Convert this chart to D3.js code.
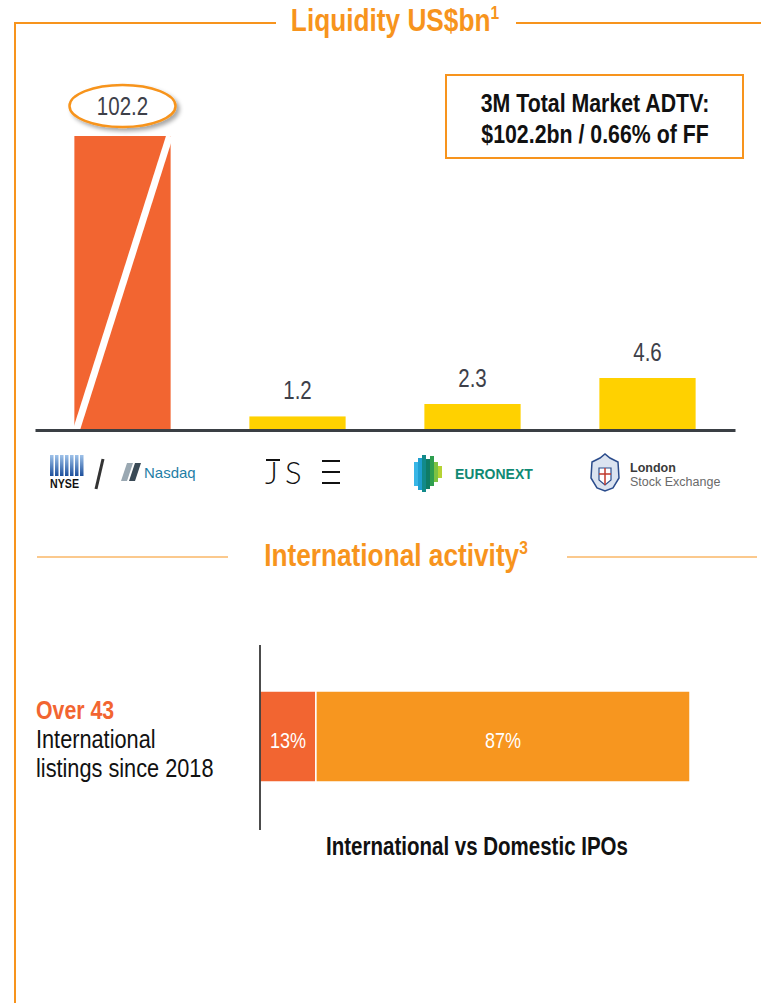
<!DOCTYPE html>
<html>
<head>
<meta charset="utf-8">
<script src="https://cdn.jsdelivr.net/npm/d3@7"></script>
<style>
  body { margin: 0; background: #fff; }
  text { font-family: "Liberation Sans", Arial, sans-serif; }
</style>
</head>
<body>
<div id="chart"></div>
<script>
var width = 761;
var height = 1005;

// liquidity data
var exchanges = ["NYSE / Nasdaq", "JSE", "Euronext", "LSE"];
var adtv = [102.2, 1.2, 2.3, 4.6];
var barColors = ["#F26531", "#FFD100", "#FFD100", "#FFD100"];

// international activity data
var ipoLabels = ["International", "Domestic"];
var ipoShare = [13, 87];
var ipoColors = ["#F26531", "#F7961F"];

var orange = "#F7941D";
var textGray = "#3d4049";
var squeeze = 0.82; // no narrow font installed, so squeeze Liberation Sans

var svg = d3.select("#chart").append("svg")
  .attr("width", width)
  .attr("height", height);

// condensed text helper
function ntext(parent, x, y, size, weight, fill, anchor) {
  return parent.append("text")
    .attr("transform", "translate(" + x + "," + y + ") scale(" + squeeze + ",1)")
    .attr("text-anchor", anchor || "start")
    .attr("fill", fill)
    .style("font-size", size + "px")
    .style("font-weight", weight);
}

var defs = svg.append("defs");
var shadow = defs.append("filter").attr("id", "shadow")
  .attr("x", "-20%").attr("y", "-30%").attr("width", "150%").attr("height", "180%");
shadow.append("feDropShadow")
  .attr("dx", 3).attr("dy", 3).attr("stdDeviation", 2)
  .attr("flood-color", "#000").attr("flood-opacity", 0.35);

// frame
svg.append("line").attr("x1", 15).attr("x2", 15).attr("y1", 22).attr("y2", 1003)
  .attr("stroke", orange).attr("stroke-width", 2);
svg.append("line").attr("x1", 14).attr("x2", 276).attr("y1", 23).attr("y2", 23)
  .attr("stroke", orange).attr("stroke-width", 2);
svg.append("line").attr("x1", 516).attr("x2", 761).attr("y1", 23).attr("y2", 23)
  .attr("stroke", orange).attr("stroke-width", 2);

var t1 = ntext(svg, 395, 31, 32, "bold", orange, "middle");
t1.append("tspan").text("Liquidity US$bn");
t1.append("tspan").attr("dy", -12).style("font-size", "19px").text("1");

// bar chart
var axisY = 430;
var capTop = 136;

var x = d3.scaleBand()
  .domain(exchanges)
  .range([35, 735])
  .paddingInner(0.45)
  .paddingOuter(0.225);

var y = d3.scaleLinear()
  .domain([0, 4.6])
  .range([axisY, 378]);

var data = exchanges.map((d, i) => ({name: d, value: adtv[i], color: barColors[i]}));

svg.append("g").selectAll("rect")
  .data(data)
  .enter()
  .append("rect")
  .attr("x", d => x(d.name))
  .attr("width", x.bandwidth())
  .attr("y", d => Math.max(y(d.value), capTop))
  .attr("height", d => axisY - Math.max(y(d.value), capTop))
  .attr("fill", d => d.color);

// break mark on the truncated bar
var big = data[0];
svg.append("line")
  .attr("x1", x(big.name) + 2).attr("y1", axisY)
  .attr("x2", x(big.name) + x.bandwidth() - 1).attr("y2", capTop)
  .attr("stroke", "#fff").attr("stroke-width", 7);

svg.append("g")
  .attr("transform", "translate(0," + axisY + ")")
  .call(d3.axisBottom(x).tickSize(0).tickFormat(""))
  .call(g => g.select(".domain").attr("stroke", "#3a3f44").attr("stroke-width", 3));

data.slice(1).forEach(d => {
  ntext(svg, x(d.name) + x.bandwidth() / 2, y(d.value) - 17, 25, "normal", textGray, "middle")
    .text(d3.format(".1f")(d.value));
});

// callout for the big bar
var cx = x(big.name) + x.bandwidth() / 2;
svg.append("ellipse")
  .attr("cx", cx).attr("cy", 106).attr("rx", 53).attr("ry", 21)
  .attr("fill", "#fff").attr("stroke", orange).attr("stroke-width", 2.5)
  .attr("filter", "url(#shadow)");
ntext(svg, cx, 115, 25, "normal", textGray, "middle").text(d3.format(".1f")(big.value));

// info box
svg.append("rect")
  .attr("x", 446).attr("y", 75).attr("width", 297).attr("height", 83)
  .attr("fill", "#fff").attr("stroke", orange).attr("stroke-width", 2);
ntext(svg, 595, 112, 26, "bold", "#111", "middle").text("3M Total Market ADTV:");
ntext(svg, 595, 143, 26, "bold", "#111", "middle").text("$102.2bn / 0.66% of FF");

// exchange logos (simplified)
var logos = svg.append("g");

// NYSE
var nyseGrad = defs.append("linearGradient").attr("id", "nyse").attr("x1", 0).attr("x2", 0).attr("y1", 0).attr("y2", 1);
nyseGrad.append("stop").attr("offset", "0%").attr("stop-color", "#9fc3ea");
nyseGrad.append("stop").attr("offset", "100%").attr("stop-color", "#1d4f9c");
d3.range(7).forEach(i => {
  logos.append("rect").attr("x", 50 + i * 5).attr("y", 455).attr("width", 3.5).attr("height", 21)
    .attr("fill", "url(#nyse)");
});
ntext(logos, 50, 488, 13, "bold", "#111").text("NYSE");
logos.append("line").attr("x1", 103).attr("y1", 459).attr("x2", 96).attr("y2", 489)
  .attr("stroke", "#333").attr("stroke-width", 3);
// Nasdaq
logos.append("path").attr("d", "M121,481 L127,463 L133,463 L127,481 Z").attr("fill", "#9aa8b2");
logos.append("path").attr("d", "M129,481 L135,463 L141,463 L135,481 Z").attr("fill", "#3a4a56");
logos.append("text").attr("x", 144).attr("y", 478).style("font-size", "15px")
  .attr("fill", "#1f7ea6").text("Nasdaq");

// JSE
logos.append("text").attr("x", 265).attr("y", 484).style("font-size", "31px")
  .style("font-family", "Lato, 'DejaVu Sans', sans-serif").style("font-weight", 300)
  .attr("fill", "#111").text("J");
logos.append("text").attr("x", 285).attr("y", 484).style("font-size", "31px")
  .style("font-family", "Lato, 'DejaVu Sans', sans-serif").style("font-weight", 300)
  .attr("fill", "#111").text("S");
logos.append("line").attr("x1", 266).attr("x2", 280).attr("y1", 460).attr("y2", 460)
  .attr("stroke", "#111").attr("stroke-width", 2);
[461, 472, 483].forEach(yy => {
  logos.append("line").attr("x1", 322).attr("x2", 340).attr("y1", yy).attr("y2", yy)
    .attr("stroke", "#111").attr("stroke-width", 2);
});

// Euronext
var enCols = [
  {x: 414, y0: 462, y1: 486, c: "#38b6e6"},
  {x: 418, y0: 458, y1: 490, c: "#1f9fd0"},
  {x: 422, y0: 455, y1: 492, c: "#128a8a"},
  {x: 426, y0: 459, y1: 489, c: "#0f7c66"},
  {x: 430, y0: 456, y1: 486, c: "#2e9e4f"},
  {x: 434, y0: 462, y1: 482, c: "#7cc242"},
  {x: 438, y0: 466, y1: 478, c: "#b5d334"}
];
enCols.forEach(d => {
  logos.append("rect").attr("x", d.x).attr("y", d.y0).attr("width", 4).attr("height", d.y1 - d.y0)
    .attr("fill", d.c);
});
logos.append("text").attr("x", 455).attr("y", 479).style("font-size", "14px").style("font-weight", "bold")
  .attr("fill", "#108a74").text("EURONEXT");

// LSE crest
logos.append("path")
  .attr("d", "M592,462 L600,458 L605,454 L610,458 L618,462 L619,478 L613,488 L605,491 L597,488 L591,478 Z")
  .attr("fill", "#dbe3f0").attr("stroke", "#2b4c8c").attr("stroke-width", 1.5);
logos.append("path").attr("d", "M599,468 L611,468 L611,480 L605,485 L599,480 Z")
  .attr("fill", "#fff").attr("stroke", "#2b4c8c").attr("stroke-width", 1.2);
logos.append("line").attr("x1", 605).attr("x2", 605).attr("y1", 468).attr("y2", 485).attr("stroke", "#c0392b").attr("stroke-width", 1.5);
logos.append("line").attr("x1", 599).attr("x2", 611).attr("y1", 474).attr("y2", 474).attr("stroke", "#c0392b").attr("stroke-width", 1.5);
logos.append("text").attr("x", 630).attr("y", 472).style("font-size", "12.5px").style("font-weight", "bold")
  .attr("fill", "#3a3a3a").text("London");
logos.append("text").attr("x", 630).attr("y", 486).style("font-size", "12.5px")
  .attr("fill", "#6a6a6a").text("Stock Exchange");

// international activity section
svg.append("line").attr("x1", 37).attr("x2", 228).attr("y1", 557).attr("y2", 557)
  .attr("stroke", orange).attr("stroke-width", 1.2);
svg.append("line").attr("x1", 567).attr("x2", 757).attr("y1", 557).attr("y2", 557)
  .attr("stroke", orange).attr("stroke-width", 1.2);
var t2 = ntext(svg, 396, 566, 32, "bold", orange, "middle");
t2.append("tspan").text("International activity");
t2.append("tspan").attr("dy", -12).style("font-size", "19px").text("3");

ntext(svg, 36, 719, 26, "bold", "#F26531").text("Over 43");
ntext(svg, 36, 748, 26.5, "normal", "#111").text("International");
ntext(svg, 36, 777, 26.5, "normal", "#111").text("listings since 2018");

// stacked bar
var xs = d3.scaleLinear().domain([0, 100]).range([260, 690]);
var stacked = [];
var acc = 0;
ipoLabels.forEach((k, i) => {
  stacked.push({key: k, x0: acc, x1: acc + ipoShare[i], value: ipoShare[i], color: ipoColors[i]});
  acc += ipoShare[i];
});

svg.selectAll(".seg")
  .data(stacked)
  .enter()
  .append("rect")
  .attr("class", "seg")
  .attr("x", d => xs(d.x0))
  .attr("width", d => xs(d.x1) - xs(d.x0))
  .attr("y", 691)
  .attr("height", 91)
  .attr("fill", d => d.color)
  .attr("stroke", "#fff")
  .attr("stroke-width", 1.5);

stacked.forEach(d => {
  ntext(svg, (xs(d.x0) + xs(d.x1)) / 2, 748, 22, "normal", "#fff", "middle").text(d.value + "%");
});

svg.append("line").attr("x1", 260).attr("x2", 260).attr("y1", 645).attr("y2", 830)
  .attr("stroke", "#111").attr("stroke-width", 1.5);

ntext(svg, 477, 855, 25, "bold", "#111", "middle").text("International vs Domestic IPOs");
</script>
</body>
</html>
